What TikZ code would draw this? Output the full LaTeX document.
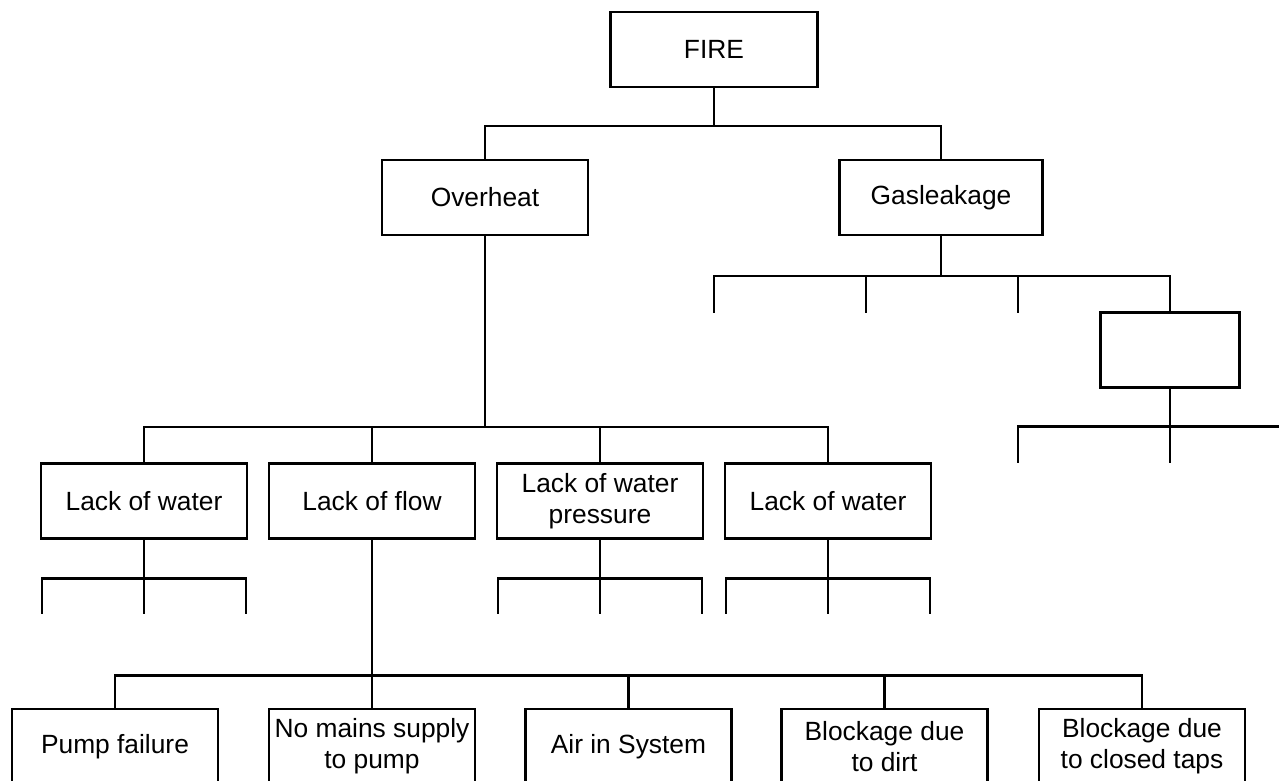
\documentclass[tikz,border=0pt]{standalone}
\usepackage{fontspec}
\setmainfont{Liberation Sans}
\usetikzlibrary{positioning}

\begin{document}
\begin{tikzpicture}[x=0.02cm, y=-0.02cm, line width=1.2pt,
    every node/.style={font=\fontsize{15}{17.5}\selectfont},
    event/.style={draw, line width=1.2pt, minimum width=4.12cm, minimum height=1.5cm, align=center, inner sep=0pt}]
    \useasboundingbox (0,0) rectangle (1279,781);

    % Top event
    \node[event, minimum width=4.14cm] (fire) at (714,49.5) {FIRE};

    % Second level
    \node[event] (over) at (485,197.5) {Overheat};
    \node[event, minimum width=4.06cm] (gas) at (941,197.5) {Gasleakage};
    \draw (fire.south) -- ++(0,38) -| (over.north);
    \draw (fire.south) -- ++(0,38) -| (gas.north);

    % Gas leakage branch
    \node[event, minimum width=2.78cm] (gasx) at (1170,350) {};
    \coordinate (ga) at (714,313);
    \coordinate (gb) at (866,313);
    \coordinate (gc) at (1018,313);
    \foreach \c in {ga,gb,gc,gasx}
        \draw (gas.south) -- ++(0,40) -| (\c.north);
    \coordinate (gxa) at (1018,463);
    \coordinate (gxb) at (1170,463);
    \coordinate (gxc) at (1285,0);
    \draw (gasx.south) -- ++(0,38) coordinate (gxj) -| (gxa);
    \draw (gasx.south) -- (gxb);
    \draw (gxj) -- (gxj -| gxc);

    % Third level (overheat causes)
    \node[event] (water) at (144,501) {Lack of water};
    \node[event] (flow) at (372,501) {Lack of flow};
    \node[event] (press) at (600,501) {Lack of water\\pressure};
    \node[event] (waterb) at (828,501) {Lack of water};
    \foreach \c in {water,flow,press,waterb}
        \draw (over.south) -- ++(0,191) -| (\c.north);

    % Undeveloped branches
    \foreach \c in {water,press,waterb} {
        \coordinate (\c l) at ([xshift=-2.04cm]\c.south |- 0,614);
        \coordinate (\c m) at (\c.south |- 0,614);
        \coordinate (\c r) at ([xshift=2.04cm]\c.south |- 0,614);
        \draw (\c.south) -- ++(0,39) -| (\c l);
        \draw (\c.south) -- (\c m);
        \draw (\c.south) -- ++(0,39) -| (\c r);
    }

    % Basic events (lack of flow)
    \node[event] (pump) at (115,746.5) {Pump failure};
    \node[event] (mains) at (372,746.5) {No mains supply\\to pump};
    \node[event] (air) at (628.5,746.5) {Air in System};
    \node[event] (dirt) at (884.5,746.5) {Blockage due\\to dirt};
    \node[event] (taps) at (1142,746.5) {Blockage due\\to closed taps};
    \foreach \c in {pump,mains,air,dirt,taps}
        \draw (flow.south) -- ++(0,136) -| (\c.north);
\end{tikzpicture}
\end{document}
